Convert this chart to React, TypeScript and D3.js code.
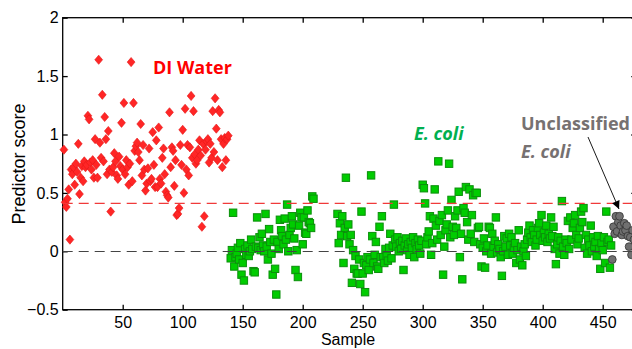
import { useEffect, useRef } from 'react';
import * as d3 from 'd3';

// DI Water predictor scores, samples 1..138
const DI_WATER = [
  0.87, 0.42, 0.38, 0.45, 0.53, 0.10, 0.70, 0.66, 0.72, 0.57,
  0.75, 0.68, 0.92, 0.49, 0.63, 0.73, 0.60, 0.77, 0.72, 0.74,
  1.16, 1.13, 0.76, 0.70, 0.78, 0.63, 0.96, 0.74, 0.63, 1.64,
  0.93, 0.80, 1.34, 0.77, 1.15, 0.96, 0.66, 1.03, 0.70, 0.34,
  0.68, 0.72, 0.84, 0.77, 0.65, 0.62, 0.81, 0.73, 1.10, 0.70,
  1.27, 0.66, 0.78, 0.72, 0.57, 0.75, 1.62, 0.60, 1.27, 0.86,
  0.90, 0.93, 0.85, 0.78, 1.09, 0.65, 0.91, 0.70, 0.52, 0.58,
  0.71, 0.88, 0.60, 0.62, 1.02, 0.74, 0.55, 0.95, 0.55, 1.06,
  0.62, 0.58, 0.80, 0.88, 0.66, 0.51, 0.48, 0.46, 1.19, 0.72,
  0.89, 0.86, 0.56, 0.78, 0.31, 0.32, 0.37, 0.91, 0.74, 1.04,
  0.50, 1.22, 0.70, 0.91, 0.65, 0.89, 1.33, 0.80, 1.20, 0.83,
  0.75, 0.78, 0.87, 0.95, 0.82, 0.21, 0.92, 0.30, 0.87, 0.94,
  0.96, 0.76, 0.92, 0.80, 1.20, 0.85, 1.31, 1.05, 0.78, 1.21,
  1.19, 0.96, 0.72, 0.92, 0.97, 0.78, 0.96, 0.99,
];
const DI_WATER_START = 1;

// E. coli, first block, samples 140..209
const ECOLI_A = [
  -0.06, 0.01, 0.33, -0.13, -0.05, -0.02, 0.03, -0.07, 0.07, -0.20,
  -0.10, -0.25, 0.02, -0.03, 0.05, -0.04, 0.00, 0.10, 0.02, -0.17,
  -0.18, 0.04, 0.29, 0.03, 0.12, 0.01, 0.15, 0.05, 0.00, 0.32,
  0.04, -0.07, 0.19, 0.08, -0.02, -0.20, 0.10, -0.15, -0.37, 0.08,
  0.02, 0.27, 0.18, 0.13, 0.06, 0.28, 0.10, 0.40, 0.00, 0.14,
  0.20, 0.30, 0.23, 0.11, -0.16, 0.01, -0.22, 0.22, 0.33, 0.29,
  0.06, 0.29, 0.16, 0.15, 0.35, 0.25, 0.24, 0.20, 0.47, 0.45,
];
const ECOLI_A_START = 140;

// E. coli, second block, samples 229..457
const ECOLI_B = [
  0.32, 0.07, 0.24, 0.14, 0.30, -0.10, 0.20, 0.63, 0.13, 0.23,
  0.06, 0.14, -0.27, 0.01, -0.15, -0.04, -0.19, -0.19, -0.07, -0.28,
  0.34, -0.19, -0.10, -0.35, -0.12, -0.05, -0.16, -0.07, 0.65, 0.13,
  -0.10, -0.03, 0.08, -0.13, -0.15, 0.21, -0.05, 0.30, -0.05, -0.10,
  0.02, -0.04, -0.08, 0.03, 0.15, -0.06, 0.05, 0.40, 0.10, 0.04,
  0.12, 0.00, 0.07, 0.02, 0.09, -0.16, 0.05, 0.11, 0.01, 0.06,
  -0.03, 0.08, 0.03, 0.12, -0.05, 0.07, 0.02, 0.10, 0.05, -0.02,
  0.09, 0.57, 0.54, 0.41, 0.06, 0.12, 0.17, 0.30, -0.03, 0.07,
  0.28, 0.53, 0.22, 0.10, 0.77, 0.26, 0.14, 0.31, -0.20, 0.04,
  0.18, 0.23, 0.35, 0.75, 0.12, 0.44, 0.21, 0.14, 0.30, 0.20,
  0.35, 0.51, -0.05, 0.15, -0.24, 0.37, 0.33, 0.55, 0.25, 0.10,
  0.53, 0.15, 0.31, 0.48, 0.08, 0.50, 0.50, 0.20, 0.21, 0.06,
  -0.13, 0.03, 0.11, -0.14, 0.00, 0.05, 0.21, 0.20, -0.02, 0.15,
  0.04, 0.09, 0.29, -0.01, 0.06, 0.02, -0.05, -0.21, 0.00, 0.13,
  0.04, 0.11, -0.03, 0.15, 0.05, 0.12, -0.02, 0.03, 0.07, -0.10,
  0.01, 0.18, -0.07, 0.04, -0.12, 0.00, 0.06, -0.04, 0.10, 0.16,
  0.22, 0.12, 0.08, 0.18, 0.14, 0.05, 0.10, 0.20, 0.24, 0.14,
  0.31, 0.09, 0.16, 0.12, 0.22, 0.08, 0.15, 0.11, 0.29, 0.13,
  0.21, 0.02, -0.11, 0.06, 0.12, -0.02, 0.09, 0.43, 0.04, -0.03,
  0.10, 0.07, 0.26, 0.02, 0.29, 0.10, 0.20, 0.24, 0.31, 0.14,
  0.06, 0.11, 0.20, 0.34, 0.25, 0.37, 0.03, 0.14, -0.02, 0.10,
  0.05, 0.22, 0.00, 0.12, 0.04, 0.08, -0.04, 0.13, 0.02, -0.15,
  0.07, 0.01, 0.12, -0.10, 0.34, 0.08, 0.10, -0.14, 0.05,
];
const ECOLI_B_START = 229;

// unclassified E. coli, samples 458..476
const UNCLASSIFIED = [
  -0.07, 0.21, 0.15, 0.30, 0.17, 0.25, 0.30, 0.22, 0.14, 0.17,
  0.24, 0.18, 0.22, 0.13, 0.04, 0.12, -0.03, 0.18, 0.10,
];
const UNCLASSIFIED_START = 458;

const X_TICKS = [50, 100, 150, 200, 250, 300, 350, 400, 450];
const Y_TICKS = [-0.5, 0, 0.5, 1, 1.5, 2];
const THRESHOLD = 0.41;

const toPoints = (vals: number[], start: number) => vals.map((v, i) => ({ s: start + i, v }));

export default function App() {
  const svgRef = useRef<SVGSVGElement>(null);
  const width = 632;
  const height = 349;

  useEffect(() => {
    if (!svgRef.current) return;
    const svg = d3.select(svgRef.current);
    svg.selectAll('*').remove();

    const x = d3.scaleLinear().domain([0, 478]).range([62.7, 636.3]);
    const y = d3.scaleLinear().domain([-0.5, 2]).range([309.7, 17.7]);
    const [x0, x1] = x.range();
    const [yb, yt] = y.range();
    const tickFont = '"Liberation Sans", Arial, sans-serif';

    // frame
    svg.append('rect')
      .attr('x', x0).attr('y', yt)
      .attr('width', x1 - x0).attr('height', yb - yt)
      .attr('fill', 'none').attr('stroke', '#000').attr('stroke-width', 1.3);

    const styleAxis = (g: any) => {
      g.select('.domain').remove();
      g.selectAll('line').attr('stroke', '#000').attr('stroke-width', 1.3);
      g.selectAll('text').style('font-family', tickFont).style('font-size', '16px').attr('fill', '#000');
    };

    svg.append('g').attr('transform', `translate(0,${yb})`)
      .call(d3.axisBottom(x).tickValues(X_TICKS).tickSizeInner(-5).tickSizeOuter(0).tickPadding(7))
      .call(styleAxis);
    svg.append('g').attr('transform', `translate(0,${yt})`)
      .call(d3.axisTop(x).tickValues(X_TICKS).tickSizeInner(-5).tickSizeOuter(0).tickFormat(() => ''))
      .call(styleAxis);
    svg.append('g').attr('transform', `translate(${x0},0)`)
      .call(d3.axisLeft(y).tickValues(Y_TICKS).tickSizeInner(-5).tickSizeOuter(0).tickPadding(4).tickFormat(d3.format('')))
      .call(styleAxis);
    svg.append('g').attr('transform', `translate(${x1},0)`)
      .call(d3.axisRight(y).tickValues(Y_TICKS).tickSizeInner(-5).tickSizeOuter(0).tickFormat(() => ''))
      .call(styleAxis);

    // DI water diamonds
    svg.append('g').selectAll('path')
      .data(toPoints(DI_WATER, DI_WATER_START))
      .enter().append('path')
      .attr('d', 'M0,-4.6L3.9,0L0,4.6L-3.9,0Z')
      .attr('transform', (d) => `translate(${x(d.s)},${y(d.v)})`)
      .attr('fill', '#ff2626').attr('stroke', '#e41515').attr('stroke-width', 0.6);

    // E. coli squares
    const green = toPoints(ECOLI_A, ECOLI_A_START).concat(toPoints(ECOLI_B, ECOLI_B_START));
    svg.append('g').selectAll('rect')
      .data(green)
      .enter().append('rect')
      .attr('x', (d) => x(d.s) - 3.7).attr('y', (d) => y(d.v) - 3.7)
      .attr('width', 7.4).attr('height', 7.4)
      .attr('fill', '#00cc00').attr('stroke', '#0a8f0a').attr('stroke-width', 1);

    // unclassified circles
    svg.append('g').selectAll('circle')
      .data(toPoints(UNCLASSIFIED, UNCLASSIFIED_START))
      .enter().append('circle')
      .attr('cx', (d) => x(d.s)).attr('cy', (d) => y(d.v)).attr('r', 3.9)
      .attr('fill', '#707070').attr('stroke', '#333').attr('stroke-width', 0.8);

    // reference lines
    svg.append('line')
      .attr('x1', x0).attr('x2', x1).attr('y1', y(THRESHOLD)).attr('y2', y(THRESHOLD))
      .attr('stroke', '#f03a3a').attr('stroke-width', 1.3).attr('stroke-dasharray', '10,6');
    svg.append('line')
      .attr('x1', x0).attr('x2', x1).attr('y1', Math.round(y(0)) + 0.5).attr('y2', Math.round(y(0)) + 0.5)
      .attr('stroke', '#444').attr('stroke-width', 1).attr('stroke-dasharray', '10,6');

    // labels
    const labelFont = '"Open Sans", "Noto Sans", sans-serif';
    svg.append('text').attr('x', 153).attr('y', 74)
      .style('font-family', labelFont).style('font-size', '18px').style('font-weight', 'bold')
      .attr('fill', '#ff0000').text('DI Water');
    svg.append('text').attr('x', 414).attr('y', 140)
      .style('font-family', labelFont).style('font-size', '18px').style('font-weight', 'bold').style('font-style', 'italic')
      .attr('fill', '#00b050').text('E. coli');
    svg.append('text').attr('x', 521).attr('y', 130)
      .style('font-family', labelFont).style('font-size', '18px').style('font-weight', 'bold')
      .attr('fill', '#767171').text('Unclassified');
    svg.append('text').attr('x', 521).attr('y', 158)
      .style('font-family', labelFont).style('font-size', '18px').style('font-weight', 'bold').style('font-style', 'italic')
      .attr('fill', '#767171').text('E. coli');

    // arrow
    const defs = svg.append('defs');
    defs.append('marker')
      .attr('id', 'arrowhead').attr('viewBox', '0 0 10 10').attr('refX', 10).attr('refY', 5)
      .attr('markerWidth', 10).attr('markerHeight', 8).attr('markerUnits', 'userSpaceOnUse')
      .attr('orient', 'auto')
      .append('path').attr('d', 'M0,0L10,5L0,10Z').attr('fill', '#000');
    svg.append('line')
      .attr('x1', 588).attr('y1', 137).attr('x2', 619).attr('y2', 209)
      .attr('stroke', '#000').attr('stroke-width', 0.9).attr('marker-end', 'url(#arrowhead)');

    // axis titles
    svg.append('text')
      .attr('transform', `translate(25,164) rotate(-90)`)
      .attr('text-anchor', 'middle')
      .style('font-family', tickFont).style('font-size', '18px')
      .text('Predictor score');
    svg.append('text')
      .attr('x', 348).attr('y', 345)
      .attr('text-anchor', 'middle')
      .style('font-family', tickFont).style('font-size', '16px')
      .text('Sample');
  }, []);

  return (
    <svg
      ref={svgRef}
      width={width}
      height={height}
      style={{ position: 'absolute', left: 0, top: 0, background: '#fff' }}
    />
  );
}
